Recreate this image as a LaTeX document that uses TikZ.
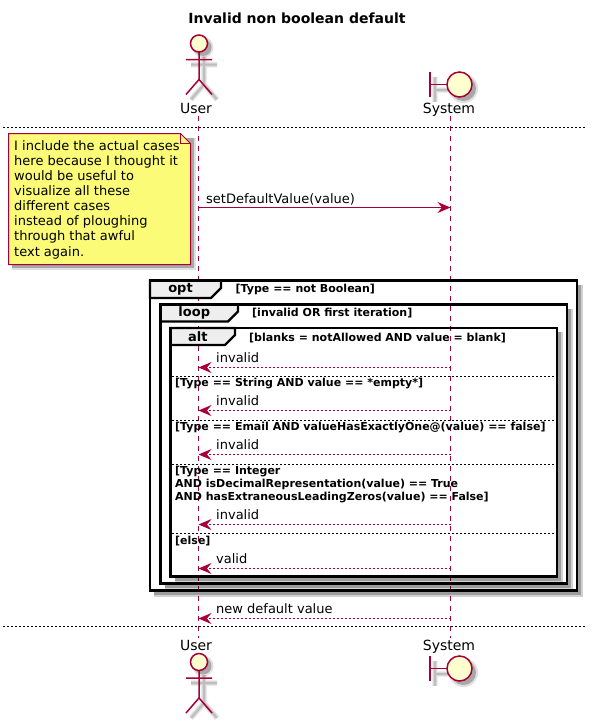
\documentclass[tikz,border=0pt]{standalone}
\usepackage{fontspec}
\setmainfont{DejaVu Sans}
\usetikzlibrary{arrows.meta}
\definecolor{seqred}{HTML}{A80036}
\definecolor{seqfill}{HTML}{FEFECE}
\definecolor{seqnote}{HTML}{FBFB77}
\definecolor{seqtab}{HTML}{EEEEEE}

% figure with soft shadow: \userman{name}{x}{y of head centre}
\newcommand{\userman}[3]{
    \begin{scope}[shift={(#2,#3)}]
        \foreach \w/\o in {6/0.07, 4/0.09, 2/0.12} {
            \draw[line width=\w pt, black, opacity=\o] (5,13) -- (5,41) (-8,21) -- (18,21) (-8,56) -- (5,41) -- (18,56);
        }
        \fill[black, opacity=0.12] (4,4) circle (10.5);
        \fill[black, opacity=0.25] (4,4) circle (8.5);
        \draw[figline] (0,8.5) -- (0,36) (-13,16) -- (13,16) (-13,51) -- (0,36) -- (13,51);
        \node[figline, fill=seqfill, circle, minimum size=17pt, inner sep=0pt] (#1) at (0,0) {};
    \end{scope}
}
% boundary symbol: \sysbound{name}{x of circle}{y}
\newcommand{\sysbound}[3]{
    \begin{scope}[shift={(#2,#3)}]
        \foreach \w/\o in {6/0.07, 4/0.09, 2/0.12} {
            \draw[line width=\w pt, black, opacity=\o] (-24.5,-7.5) -- (-24.5,17.5) (-24.5,5) -- (-8,5);
        }
        \fill[black, opacity=0.12] (4,4) circle (14.5);
        \fill[black, opacity=0.25] (4,4) circle (12.5);
        \draw[figline] (-29.5,-12.5) -- (-29.5,12.5) (-29.5,0) -- (-12.5,0);
        \node[figline, fill=seqfill, circle, minimum size=25pt, inner sep=0pt] (#1) at (0,0) {};
    \end{scope}
}
% grouping frame: \seqframe{name}{left}{top}{right}{bottom}{tab right}{tab bottom}{label}
\newcommand{\seqframe}[8]{
    \draw[line width=5pt, black, opacity=0.18] (#4+3.5,#3+4) -- (#4+3.5,#5+3.5) -- (#2+4,#5+3.5);
    \draw[line width=3pt, black, opacity=0.25] (#4+2.5,#3+4) -- (#4+2.5,#5+2.5) -- (#2+4,#5+2.5);
    \draw[tabline, fill=seqtab] (#2,#3) -- (#6,#3) -- (#6,#7-10) -- (#6-10,#7) -- (#2,#7) -- cycle;
    \node[tabtext] (#1tab) at ({(#2+#6-10)/2},{(#3+#7)/2}) {#8};
    \draw[tabline] (#2,#3) rectangle (#4,#5);
}

\begin{document}
\begin{tikzpicture}[
    x=1pt, y=-1pt,
    figline/.style={draw=seqred, line width=1.5pt},
    tabline/.style={draw=black, line width=2.4pt, line join=miter},
    tabtext/.style={font=\fontsize{13}{15}\selectfont\bfseries, inner sep=0pt},
    guard/.style={font=\fontsize{11}{13}\selectfont\bfseries, anchor=base west, inner sep=0pt, align=left},
    msgtext/.style={font=\fontsize{13}{15}\selectfont, anchor=base west, inner sep=0pt},
    who/.style={font=\fontsize{14}{16}\selectfont, anchor=base, inner sep=0pt},
    lifeline/.style={draw=seqred, line width=1pt, dash pattern=on 5pt off 5pt},
    divider/.style={draw=black, line width=1pt, dash pattern=on 2pt off 2pt},
    call/.style={draw=seqred, line width=1pt, -{Stealth[length=13pt, width=11pt, inset=4.5pt]}},
    reply/.style={call, dash pattern=on 2pt off 2pt},
    ]
    \useasboundingbox (0,0) rectangle (597,723);

    \node[font=\fontsize{14}{16}\selectfont\bfseries, inner sep=0pt] (title) at (297,18) {Invalid non boolean default};

    % ----- lifelines and the two page rules
    \coordinate (usertop) at (198.5,116);
    \coordinate (userend) at (198.5,638);
    \coordinate (systop) at (450.5,116);
    \coordinate (sysend) at (450.5,638);
    \draw[lifeline] (usertop) -- (userend);
    \draw[lifeline] (systop) -- (sysend);

    \coordinate (rule1l) at (3,127.5);
    \coordinate (rule1r) at (586,127.5);
    \coordinate (rule2l) at (3,626.5);
    \coordinate (rule2r) at (586,626.5);
    \draw[divider] (rule1l) -- (rule1r);
    \draw[divider] (rule2l) -- (rule2r);

    % ----- participants, top and bottom
    \userman{usera}{199}{43.5}
    \sysbound{sysa}{459.5}{84.5}
    \node[who] (userlabela) at (196,113) {User};
    \node[who] (syslabela) at (449,113) {System};
    \node[who] (userlabelb) at (196,650) {User};
    \node[who] (syslabelb) at (449,650) {System};
    \userman{userb}{199}{662}
    \sysbound{sysb}{459.5}{668.5}

    % ----- note
    \fill[black, opacity=0.12] (12,138) rectangle (196,270);
    \fill[black, opacity=0.25] (12,138) rectangle (194,268);
    \draw[draw=seqred, line width=1pt, fill=seqnote] (8.5,133.5) -- (180.5,133.5) -- (190.5,143.5) -- (190.5,264.5) -- (8.5,264.5) -- cycle;
    \draw[draw=seqred, line width=1pt] (180.5,133.5) -- (180.5,143.5) -- (190.5,143.5);
    \node[font=\fontsize{13}{15.15}\selectfont, anchor=north west, align=left, inner sep=0pt] (casesnote) at (14,140) {I include the actual cases\\here because I thought it\\would be useful to\\visualize all these\\different cases\\instead of ploughing\\through that awful\\text again.};

    % ----- first message
    \coordinate (setu) at (198.5,207.5);
    \coordinate (sets) at (450.5,207.5);
    \draw[call] (setu) -- (sets);
    \node[msgtext] (setlabel) at (206,203) {setDefaultValue(value)};

    % ----- nested frames
    \seqframe{opt}{150}{280.5}{577}{590.5}{221}{298}{opt}
    \node[guard] (optguard) at (235.5,292) {[Type == not Boolean]};
    \seqframe{loop}{160.5}{304.5}{567}{583.5}{238}{321.5}{loop}
    \node[guard] (loopguard) at (252,316) {[invalid OR first iteration]};
    \seqframe{alt}{170.5}{328}{557}{576.5}{235}{345}{alt}
    \node[guard] (altguard) at (249,341) {[blanks = notAllowed AND value = blank]};

    % ----- else branches
    \foreach \n/\y in {a/376, b/420, c/464, d/533} {
        \coordinate (bl\n) at (172,\y.5);
        \coordinate (br\n) at (556,\y.5);
        \draw[divider] (bl\n) -- (br\n);
    }
    \node[guard] (guardb) at (175,386) {[Type == String AND value == *empty*]};
    \node[guard] (guardc) at (175,430) {[Type == Email AND valueHasExactlyOne@(value) == false]};
    \node[guard, anchor=north west] (guardd) at (175,466) {[Type == Integer\\AND isDecimalRepresentation(value) == True\\AND hasExtraneousLeadingZeros(value) == False]};
    \node[guard] (guarde) at (175,544) {[else]};

    % ----- replies
    \foreach \n/\y/\t in {a/367/invalid, b/410/invalid, c/454/invalid, d/524/invalid, e/568/valid, f/618/new default value} {
        \coordinate (rs\n) at (450.5,\y.5);
        \coordinate (ru\n) at (198.5,\y.5);
        \draw[reply] (rs\n) -- (ru\n);
        \node[msgtext] (rt\n) at (216,\y-4.5) {\t};
    }
\end{tikzpicture}
\end{document}
